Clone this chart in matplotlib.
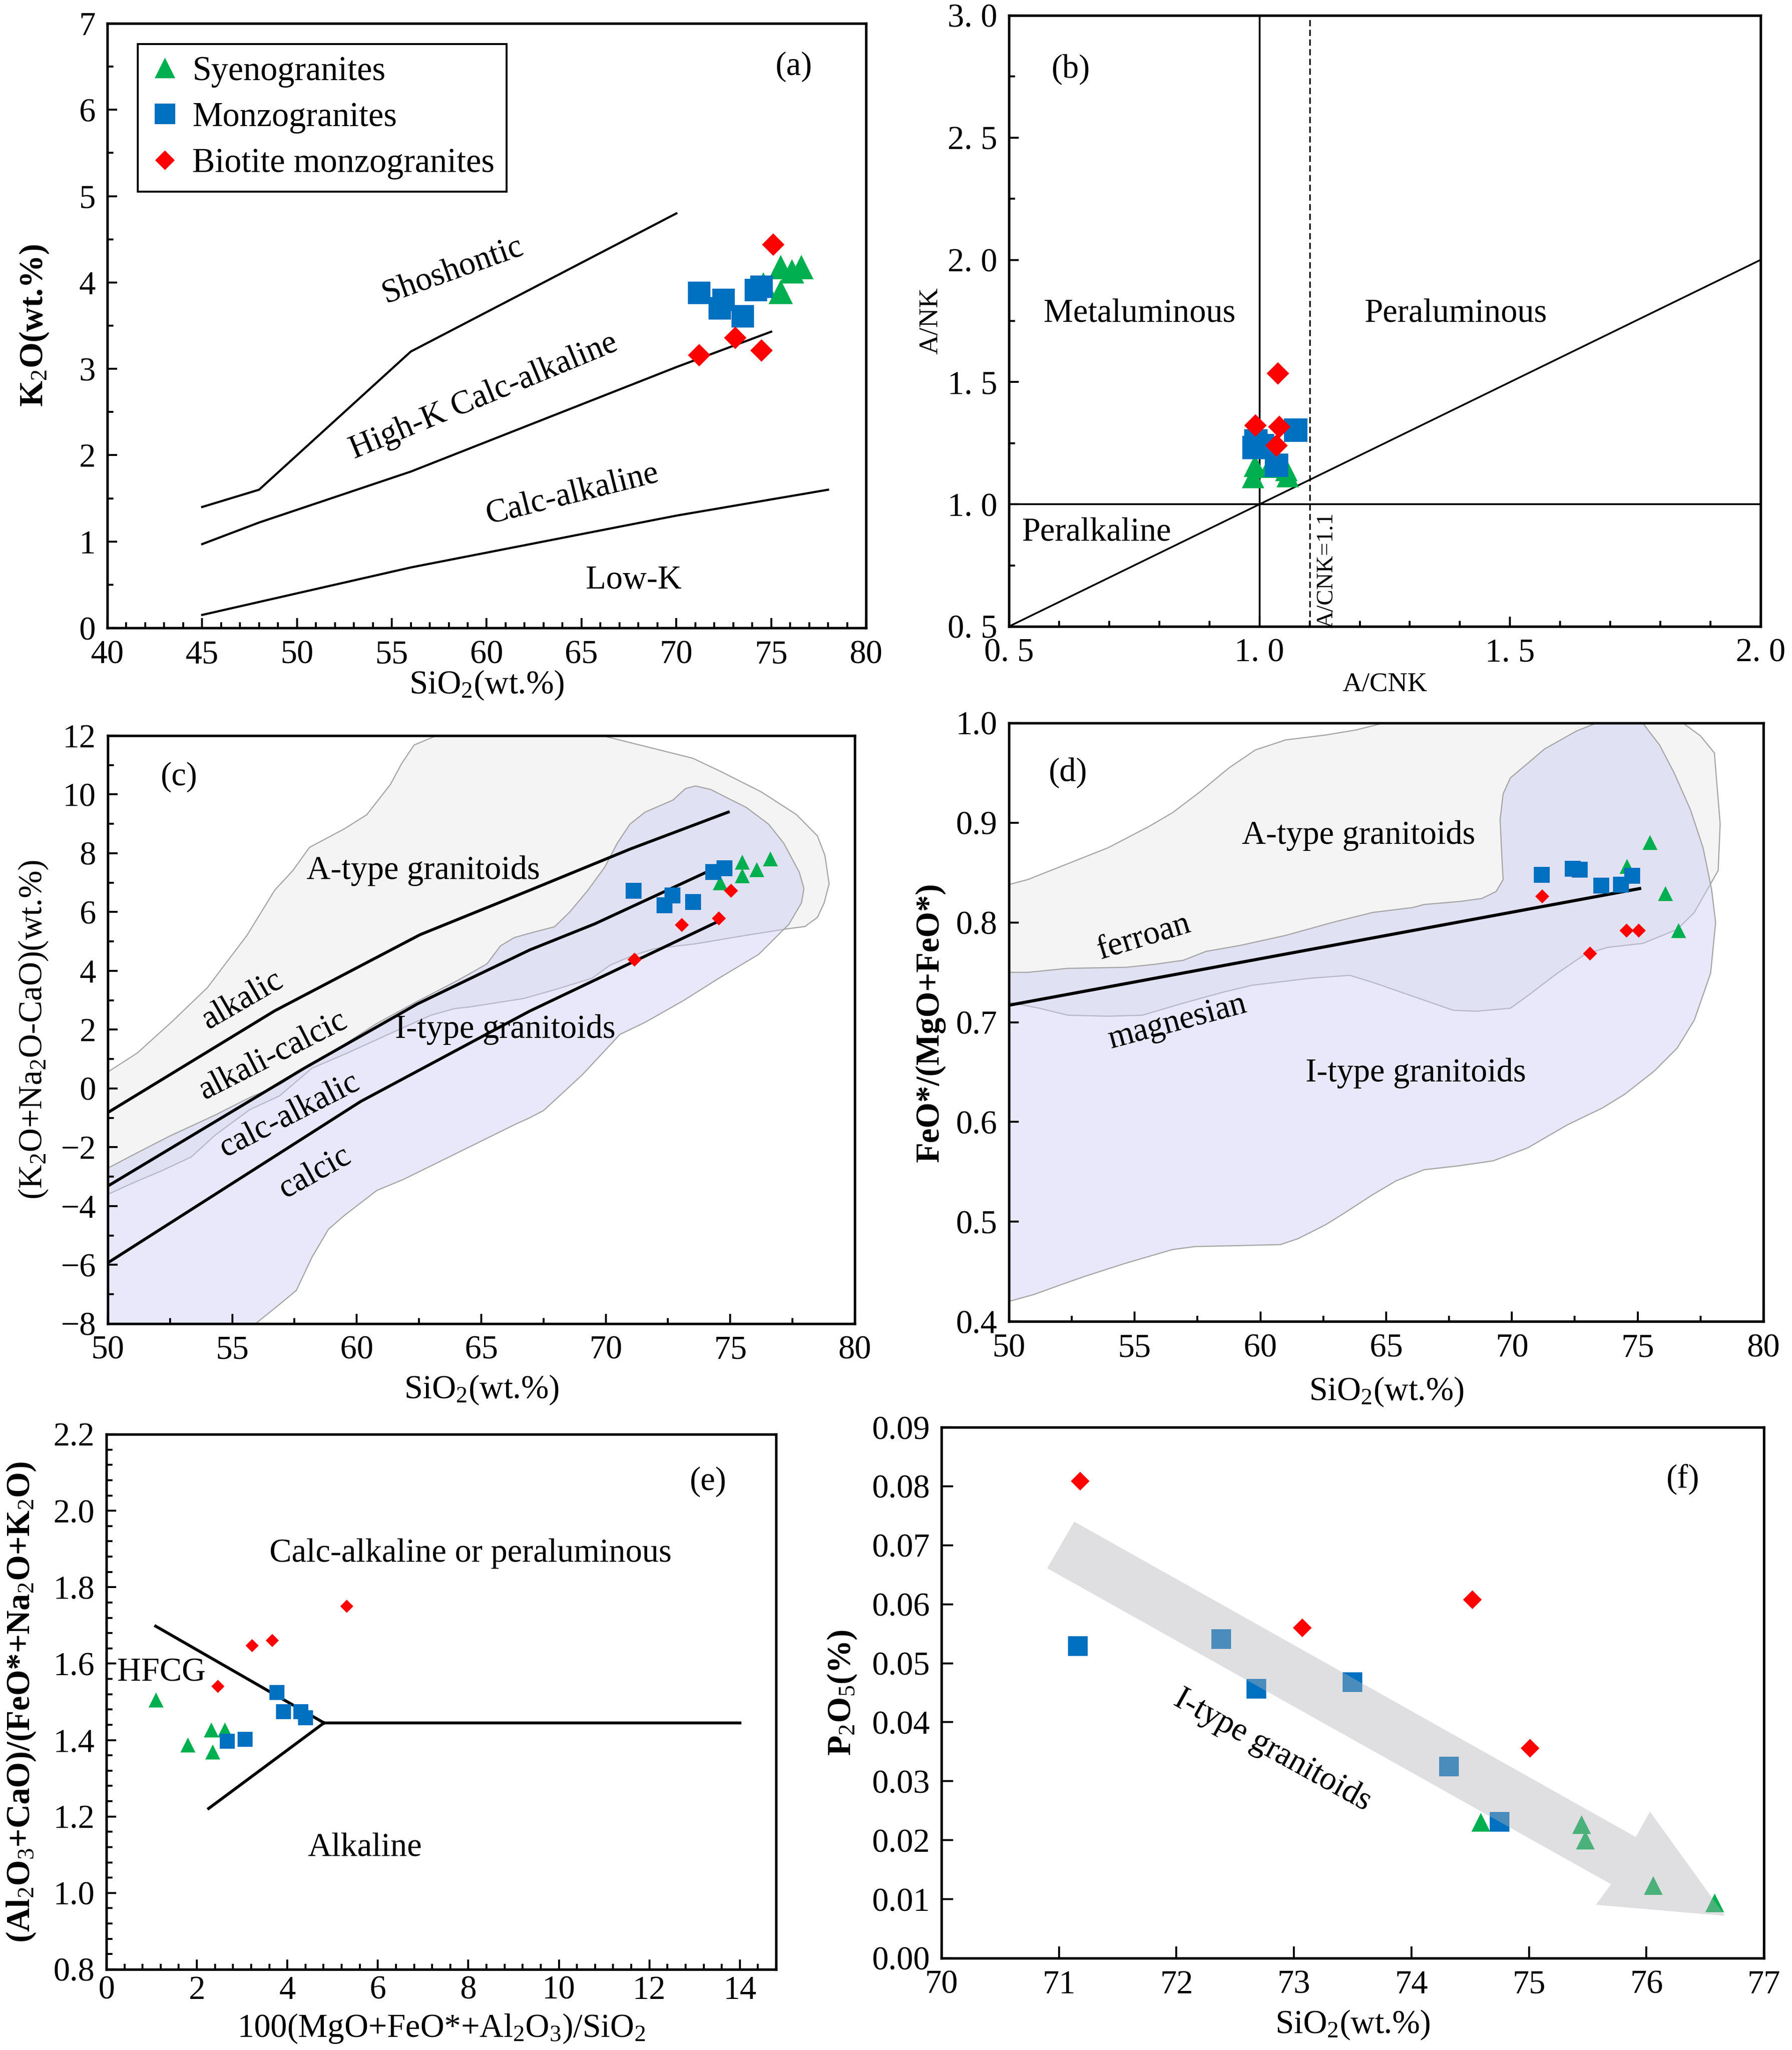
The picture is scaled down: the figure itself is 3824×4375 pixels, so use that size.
#!/usr/bin/env python3
# Granite classification diagrams (a)-(f), six panels in one figure.

import matplotlib
matplotlib.use("Agg")
import matplotlib.pyplot as plt
from matplotlib.patches import Polygon
from matplotlib.lines import Line2D
from matplotlib.ticker import MultipleLocator, FuncFormatter

plt.rcParams["font.family"] = ["Liberation Serif", "DejaVu Serif"]
plt.rcParams["mathtext.fontset"] = "custom"
plt.rcParams["mathtext.rm"] = "Liberation Serif"
plt.rcParams["mathtext.it"] = "Liberation Serif:italic"
plt.rcParams["mathtext.bf"] = "Liberation Serif:bold"
plt.rcParams["font.size"] = 16

GREEN = "#00B050"
BLUE = "#0070C0"
RED = "#FF0000"

# ---------------- (a) SiO2 vs K2O ----------------
a_sye_x = [74.6, 75.5, 75.5, 76.1, 76.6]
a_sye_y = [3.98, 4.18, 3.89, 4.13, 4.18]
a_mon_x = [71.2, 72.5, 72.3, 73.5, 74.2, 74.5]
a_mon_y = [3.88, 3.80, 3.70, 3.61, 3.91, 3.95]
a_bio_x = [75.1, 71.2, 73.1, 74.5]
a_bio_y = [4.44, 3.16, 3.36, 3.21]
a_sho_x = [45, 48, 56, 70]
a_sho_y = [1.4, 1.6, 3.2, 4.8]
a_hk_x = [45, 48, 56, 70, 75]
a_hk_y = [0.97, 1.22, 1.81, 3.02, 3.43]
a_lk_x = [45, 48, 52, 56, 63, 70, 78]
a_lk_y = [0.15, 0.30, 0.50, 0.70, 1.00, 1.30, 1.60]

# ---------------- (b) A/CNK vs A/NK ----------------
b_sye_x = [0.991, 0.987, 1.020, 1.054, 1.056]
b_sye_y = [1.157, 1.112, 1.153, 1.141, 1.115]
b_mon_x = [1.072, 0.993, 1.006, 0.989, 1.034]
b_mon_y = [1.304, 1.259, 1.240, 1.233, 1.160]
b_bio_x = [1.037, 0.992, 1.040, 1.034]
b_bio_y = [1.535, 1.323, 1.316, 1.240]

# ---------------- (c) SiO2 vs MALI ----------------
c_sye_x = [75.48, 75.48, 76.07, 76.62, 74.59]
c_sye_y = [7.69, 7.24, 7.45, 7.81, 7.00]
c_mon_x = [71.12, 72.67, 72.35, 73.50, 74.32, 74.77]
c_mon_y = [6.72, 6.57, 6.23, 6.35, 7.37, 7.49]
c_bio_x = [75.04, 74.54, 73.05, 71.15]
c_bio_y = [6.73, 5.78, 5.56, 4.38]
c_alk_x = [50, 56.7, 62.54, 66.94, 71.0, 74.92]
c_alk_y = [-0.82, 2.64, 5.23, 6.74, 8.15, 9.40]
c_ac_x = [50, 57.89, 62.42, 66.94, 69.56, 74.1]
c_ac_y = [-3.32, 0.69, 2.87, 4.71, 5.60, 7.38]
c_cc_x = [50, 60.16, 66.94, 74.41]
c_cc_y = [-5.93, -0.44, 2.63, 5.64]
c_A_x = [49, 50, 51.19, 52.6, 54.0, 55.6, 56.7, 57.43, 58.1, 59.5, 60.4, 61.35,
         61.8, 62.3, 63.2, 69.86, 73.5, 74.62, 76.24, 77.65, 78.5, 78.8, 78.97,
         78.77, 78.5, 78.0, 77.2, 75.64, 73.6, 71.98, 71.08, 70.16, 69.45, 68.03,
         66.7, 64.5, 63.94, 62.97, 61.24, 59.5, 58.2, 56.9, 55.7, 54.32, 53.35,
         52.16, 51.07, 50, 49]
c_A_y = [0.56, 0.56, 1.21, 2.29, 3.43, 5.22, 6.74, 7.41, 8.2, 8.83, 9.31, 10.34,
         11.05, 11.68, 12.0, 12.0, 11.23, 10.78, 10.09, 9.32, 8.59, 7.93, 6.96,
         6.31, 5.82, 5.51, 5.42, 5.21, 4.92, 4.76, 4.52, 4.19, 3.75, 3.38,
         3.06, 2.77, 2.72, 2.49, 1.83, 1.16, 0.69, -0.25, -0.72, -1.58, -2.33,
         -2.80, -3.19, -3.60, -3.60]
c_I_x = [49, 50, 51.08, 52.48, 54.32, 55.72, 56.9, 58.2, 59.5, 60.8, 62.42, 64.04,
         65.23, 65.77, 66.32, 66.94, 67.94, 68.54, 69.26, 69.96, 70.46, 70.97,
         71.58, 72.7, 73.2, 73.6, 74.21, 75.64, 76.54, 77.15, 77.77, 77.96, 77.86,
         77.35, 76.14, 74.62, 73.1, 71.58, 70.57, 69.05, 67.5, 66.94, 66.41,
         64.04, 61.88, 60.8, 59.5, 58.86, 58.2, 57.57, 56.9, 55.83, 55.5, 49]
c_I_y = [-2.71, -2.71, -2.23, -1.62, -0.90, -0.30, 0.13, 0.83, 1.50, 2.21, 2.96,
         3.67, 4.24, 4.85, 5.13, 5.28, 5.50, 5.99, 6.72, 7.53, 8.34, 8.99, 9.40,
         9.81, 10.20, 10.29, 10.17, 9.56, 8.99, 8.34, 7.36, 6.80, 6.31, 5.58,
         4.56, 3.79, 2.98, 2.25, 1.84, 0.46, -0.75, -1.00, -1.20, -2.19, -3.09,
         -3.47, -4.32, -4.79, -5.74, -6.87, -7.34, -8.07, -9.0, -9.0]

# ---------------- (d) SiO2 vs Fe-number ----------------
d_sye_x = [74.58, 75.50, 76.11, 76.62]
d_sye_y = [0.856, 0.880, 0.829, 0.792]
d_mon_x = [71.18, 72.41, 72.69, 73.55, 74.33, 74.79]
d_mon_y = [0.848, 0.854, 0.853, 0.837, 0.838, 0.847]
d_bio_x = [71.20, 73.10, 74.56, 75.04]
d_bio_y = [0.826, 0.769, 0.792, 0.792]
d_line_x = [50, 75.08]
d_line_y = [0.717, 0.834]
d_A_x = [49, 50, 50.75, 52.35, 53.95, 55.55, 56.5, 57.6, 58.75, 59.8, 61.0, 62.6,
         63.8, 64.9, 76.8, 77.5, 78.05, 78.28, 78.2, 77.25, 76.57, 75.2, 73.8,
         72.9, 71.8, 70.6, 69.94, 68.57, 67.66, 66.06, 64.46, 63.55, 61.95, 59.66,
         58.5, 56.92, 55.3, 53.95, 52.35, 51.2, 50, 49]
d_A_y = [0.838, 0.838, 0.843, 0.859, 0.875, 0.896, 0.910, 0.931, 0.955, 0.973,
         0.983, 0.988, 0.993, 1.0, 1.0, 0.987, 0.970, 0.899, 0.852, 0.810, 0.793,
         0.779, 0.775, 0.768, 0.749, 0.726, 0.714, 0.711, 0.712, 0.726, 0.740,
         0.747, 0.744, 0.737, 0.730, 0.719, 0.707, 0.706, 0.707, 0.714, 0.720, 0.720]
d_I_x = [49, 50, 50.75, 52.35, 54.64, 55.78, 56.92, 57.84, 59.2, 61.0, 62.86, 64.46,
         66.06, 66.5, 67.9, 68.8, 69.37, 69.65, 69.6, 69.53, 69.65, 69.94, 70.6,
         71.3, 72.57, 73.37, 75.2, 75.87, 76.45, 77.1, 77.6, 77.94, 78.1, 77.9,
         77.25, 76.57, 75.66, 74.5, 73.6, 72.2, 70.63, 69.26, 67.9, 66.5, 65.4,
         64.46, 63.3, 62.6, 61.5, 60.8, 59.2, 57.4, 56.5, 55.55, 54.6, 53.0, 52.1,
         51.0, 50, 49]
d_I_y = [0.750, 0.750, 0.750, 0.754, 0.755, 0.758, 0.762, 0.771, 0.777, 0.787,
         0.800, 0.810, 0.815, 0.818, 0.821, 0.824, 0.831, 0.843, 0.866, 0.903,
         0.929, 0.945, 0.959, 0.974, 0.992, 1.0, 1.0, 0.978, 0.950, 0.913, 0.875,
         0.833, 0.800, 0.749, 0.702, 0.674, 0.651, 0.628, 0.614, 0.597, 0.574,
         0.561, 0.556, 0.552, 0.541, 0.527, 0.508, 0.497, 0.483, 0.477, 0.476,
         0.475, 0.472, 0.465, 0.458, 0.445, 0.437, 0.427, 0.420, 0.418]

# ---------------- (e) HFCG diagram ----------------
e_sye_x = [1.10, 1.80, 2.32, 2.62, 2.35]
e_sye_y = [1.505, 1.387, 1.426, 1.427, 1.369]
e_mon_x = [3.77, 3.92, 4.30, 4.40, 2.67, 3.07]
e_mon_y = [1.525, 1.474, 1.474, 1.458, 1.397, 1.402]
e_bio_x = [5.31, 3.67, 3.22, 2.46]
e_bio_y = [1.750, 1.661, 1.647, 1.541]
e_up_x = [1.09, 4.81]
e_up_y = [1.698, 1.445]
e_lo_x = [2.26, 4.81]
e_lo_y = [1.221, 1.445]
e_hz_x = [4.81, 14.0]
e_hz_y = [1.445, 1.445]

# ---------------- (f) SiO2 vs P2O5 ----------------
f_sye_x = [74.59, 75.45, 75.48, 76.06, 76.58]
f_sye_y = [0.0230, 0.0226, 0.0200, 0.0123, 0.0094]
f_mon_x = [71.16, 72.38, 72.68, 73.50, 74.32, 74.75]
f_mon_y = [0.0529, 0.0541, 0.0457, 0.0468, 0.0325, 0.0231]
f_bio_x = [71.18, 73.07, 74.52, 75.01]
f_bio_y = [0.0809, 0.0560, 0.0608, 0.0356]
f_arrow_x = [71.13, 75.91, 76.03, 76.67, 75.57, 75.70, 70.90]
f_arrow_y = [0.0740, 0.02053, 0.02485, 0.00717, 0.00905, 0.01253, 0.0661]


def style(ax, xlim, ylim, xmaj, ymaj, xmin=None, ymin=None):
    ax.set_xlim(*xlim)
    ax.set_ylim(*ylim)
    ax.xaxis.set_major_locator(MultipleLocator(xmaj))
    ax.yaxis.set_major_locator(MultipleLocator(ymaj))
    if xmin:
        ax.xaxis.set_minor_locator(MultipleLocator(xmin))
    if ymin:
        ax.yaxis.set_minor_locator(MultipleLocator(ymin))
    ax.tick_params(which="both", direction="in", top=False, right=False,
                   width=1.0, labelsize=17, pad=6)
    ax.tick_params(which="major", length=5)
    ax.tick_params(which="minor", length=3)
    for s in ax.spines.values():
        s.set_linewidth(1.3)


def scatter3(ax, sye, mon, bio, ms_t, ms_s, ms_d, z=3):
    ax.plot(*sye, ls="none", marker="^", ms=ms_t, color=GREEN, mec="none", zorder=z)
    ax.plot(*mon, ls="none", marker="s", ms=ms_s, color=BLUE, mec="none", zorder=z)
    ax.plot(*bio, ls="none", marker="D", ms=ms_d, color=RED, mec="none", zorder=z)


W, H = 3824, 4375
fig = plt.figure(figsize=(W / 300, H / 300), dpi=300)


def box(l, t, r, b):
    return [l / W, 1 - b / H, (r - l) / W, (b - t) / H]


# ---- (a)
ax = fig.add_axes(box(229, 50, 1848, 1340))
style(ax, (40, 80), (0, 7), 5, 1, 1, 0.5)
for xs, ys in [(a_sho_x, a_sho_y), (a_hk_x, a_hk_y), (a_lk_x, a_lk_y)]:
    ax.plot(xs, ys, color="black", lw=1.1, zorder=2)
scatter3(ax, (a_sye_x, a_sye_y), (a_mon_x, a_mon_y), (a_bio_x, a_bio_y), 12.5, 11.5, 8.3)
# legend uses the same marker kinds as the points, a bit smaller
handles = [
    Line2D([], [], ls="none", marker="^", ms=10.5, color=GREEN, mec="none", label="Syenogranites"),
    Line2D([], [], ls="none", marker="s", ms=10.5, color=BLUE, mec="none", label="Monzogranites"),
    Line2D([], [], ls="none", marker="D", ms=7, color=RED, mec="none", label="Biotite monzogranites"),
]
leg = ax.legend(handles=handles, loc="upper left", bbox_to_anchor=(0.040, 0.966),
                borderaxespad=0, fancybox=False, edgecolor="black", framealpha=1,
                fontsize=17.5, handlelength=0.9, handletextpad=0.35, labelspacing=0.42,
                borderpad=0.35)
leg.get_frame().set_linewidth(1.0)
ax.text(58.2, 4.14, "Shoshontic", rotation=19.6, ha="center", va="center", fontsize=17)
ax.text(59.85, 2.68, "High-K Calc-alkaline", rotation=22.4, ha="center", va="center", fontsize=17)
ax.text(64.5, 1.55, "Calc-alkaline", rotation=14, ha="center", va="center", fontsize=17)
ax.text(67.76, 0.55, "Low-K", ha="center", va="center", fontsize=17)
ax.text(76.2, 6.5, "(a)", ha="center", va="center", fontsize=17)
ax.set_ylabel("K$_2$O(wt.%)", fontweight="bold", fontsize=17)
ax.set_xlabel("SiO$_2$(wt.%)", fontsize=17)
ax.yaxis.set_label_coords(-0.075, 0.5)
ax.xaxis.set_label_coords(0.5, -0.068)

# ---- (b)
ax = fig.add_axes(box(2153, 33, 3757, 1337))
style(ax, (0.5, 2.0), (0.5, 3.0), 0.5, 0.5, 0.1, 0.25)
spaced = FuncFormatter(lambda v, p: f"{v:.1f}".replace(".", ". "))
ax.xaxis.set_major_formatter(spaced)
ax.yaxis.set_major_formatter(spaced)
ax.axvline(1.0, color="black", lw=0.9, zorder=2)
ax.axhline(1.0, color="black", lw=0.9, zorder=2)
ax.plot([0.5, 2.0], [0.5, 2.0], color="black", lw=0.9, zorder=2)
ax.axvline(1.1, color="black", lw=0.8, ls=(0, (4, 2.2)), zorder=2)
scatter3(ax, (b_sye_x, b_sye_y), (b_mon_x, b_mon_y), (b_bio_x, b_bio_y), 11.5, 12, 8.1)
ax.text(0.624, 2.78, "(b)", ha="center", va="center", fontsize=17)
ax.text(0.761, 1.78, "Metaluminous", ha="center", va="center", fontsize=17)
ax.text(1.392, 1.78, "Peraluminous", ha="center", va="center", fontsize=17)
ax.text(0.675, 0.885, "Peralkaline", ha="center", va="center", fontsize=17)
ax.text(1.134, 0.73, "A/CNK=1.1", rotation=90, ha="center", va="center", fontsize=12)
ax.set_ylabel("A/NK", fontsize=14)
ax.set_xlabel("A/CNK", fontsize=14)
ax.yaxis.set_label_coords(-0.088, 0.5)
ax.xaxis.set_label_coords(0.5, -0.075)

# ---- (c)
ax = fig.add_axes(box(230, 1570, 1824, 2825))
style(ax, (50, 80), (-8, 12), 5, 2, 2.5, 1)
ax.add_patch(Polygon(list(zip(c_A_x, c_A_y)), closed=True, facecolor="#F4F4F4",
                     edgecolor="#A6A6A6", lw=0.6, zorder=1))
ax.add_patch(Polygon(list(zip(c_I_x, c_I_y)), closed=True,
                     facecolor=(0.80, 0.80, 0.957, 0.45), edgecolor="#A6A6A6",
                     lw=0.6, zorder=1.1))
for xs, ys in [(c_alk_x, c_alk_y), (c_ac_x, c_ac_y), (c_cc_x, c_cc_y)]:
    ax.plot(xs, ys, color="black", lw=1.5, zorder=2)
scatter3(ax, (c_sye_x, c_sye_y), (c_mon_x, c_mon_y), (c_bio_x, c_bio_y), 7.8, 8, 5.0)
ax.text(52.86, 10.6, "(c)", ha="center", va="center", fontsize=17)
ax.text(62.67, 7.4, "A-type granitoids", ha="center", va="center", fontsize=17)
ax.text(65.97, 2.0, "I-type granitoids", ha="center", va="center", fontsize=17)
ax.text(55.4, 3.01, "alkalic", rotation=30, ha="center", va="center", fontsize=17)
ax.text(56.64, 1.12, "alkali-calcic", rotation=27, ha="center", va="center", fontsize=17)
ax.text(57.29, -0.9, "calc-alkalic", rotation=27, ha="center", va="center", fontsize=17)
ax.text(58.32, -2.85, "calcic", rotation=29, ha="center", va="center", fontsize=17)
ax.set_ylabel("(K$_2$O+Na$_2$O-CaO)(wt.%)", fontsize=17)
ax.set_xlabel("SiO$_2$(wt.%)", fontsize=17)
ax.yaxis.set_label_coords(-0.078, 0.5)
ax.xaxis.set_label_coords(0.5, -0.085)

# ---- (d)
ax = fig.add_axes(box(2153, 1543, 3763, 2820))
style(ax, (50, 80), (0.4, 1.0), 5, 0.1, 2.5, None)
ax.yaxis.set_major_formatter(FuncFormatter(lambda v, p: f"{v:.1f}"))
ax.add_patch(Polygon(list(zip(d_A_x, d_A_y)), closed=True, facecolor="#F4F4F4",
                     edgecolor="#A6A6A6", lw=0.6, zorder=1))
ax.add_patch(Polygon(list(zip(d_I_x, d_I_y)), closed=True,
                     facecolor=(0.80, 0.80, 0.957, 0.45), edgecolor="#A6A6A6",
                     lw=0.6, zorder=1.1))
ax.plot(d_line_x, d_line_y, color="black", lw=1.6, zorder=2)
scatter3(ax, (d_sye_x, d_sye_y), (d_mon_x, d_mon_y), (d_bio_x, d_bio_y), 7.8, 8, 5.0)
ax.text(52.35, 0.95, "(d)", ha="center", va="center", fontsize=17)
ax.text(63.9, 0.887, "A-type granitoids", ha="center", va="center", fontsize=17)
ax.text(55.37, 0.785, "ferroan", rotation=17, ha="center", va="center", fontsize=17)
ax.text(56.7, 0.70, "magnesian", rotation=15, ha="center", va="center", fontsize=17)
ax.text(66.18, 0.649, "I-type granitoids", ha="center", va="center", fontsize=17)
ax.set_ylabel("FeO*/(MgO+FeO*)", fontweight="bold", fontsize=17)
ax.set_xlabel("SiO$_2$(wt.%)", fontsize=17)
ax.yaxis.set_label_coords(-0.084, 0.5)
ax.xaxis.set_label_coords(0.5, -0.09)

# ---- (e)
ax = fig.add_axes(box(227, 3061, 1656, 4203))
style(ax, (0, 14.8), (0.8, 2.2), 2, 0.2, 0.4, 0.04)
ax.tick_params(axis="x", which="both", pad=3)
ax.yaxis.set_major_formatter(FuncFormatter(lambda v, p: f"{v:.1f}"))
for xs, ys in [(e_up_x, e_up_y), (e_lo_x, e_lo_y), (e_hz_x, e_hz_y)]:
    ax.plot(xs, ys, color="black", lw=1.5, zorder=2)
scatter3(ax, (e_sye_x, e_sye_y), (e_mon_x, e_mon_y), (e_bio_x, e_bio_y), 7.5, 7.8, 4.6)
ax.text(13.3, 2.076, "(e)", ha="center", va="center", fontsize=17)
ax.text(8.05, 1.888, "Calc-alkaline or peraluminous", ha="center", va="center", fontsize=17)
ax.text(1.22, 1.576, "HFCG", ha="center", va="center", fontsize=17)
ax.text(5.71, 1.119, "Alkaline", ha="center", va="center", fontsize=17)
ax.set_ylabel("(Al$_2$O$_3$+CaO)/(FeO*+Na$_2$O+K$_2$O)", fontweight="bold", fontsize=17)
ax.set_xlabel("100(MgO+FeO*+Al$_2$O$_3$)/SiO$_2$", fontsize=17)
ax.yaxis.set_label_coords(-0.103, 0.5)
ax.xaxis.set_label_coords(0.5, -0.08)

# ---- (f)
ax = fig.add_axes(box(2009, 3046, 3764, 4179))
style(ax, (70, 77), (0, 0.09), 1, 0.01)
ax.tick_params(which="major", length=6)
ax.yaxis.set_major_formatter(FuncFormatter(lambda v, p: f"{v:.2f}"))
scatter3(ax, (f_sye_x, f_sye_y), (f_mon_x, f_mon_y), (f_bio_x, f_bio_y), 9.6, 10, 6.8)
# arrow sits on top of the points, translucent
ax.add_patch(Polygon(list(zip(f_arrow_x, f_arrow_y)), closed=True,
                     facecolor=(0.70, 0.70, 0.72, 0.42), edgecolor="none", zorder=4))
ax.text(76.31, 0.0811, "(f)", ha="center", va="center", fontsize=17)
ax.text(72.82, 0.0352, "I-type granitoids", rotation=-29, ha="center", va="center",
        fontsize=17, zorder=5)
ax.set_ylabel("P$_2$O$_5$(%)", fontweight="bold", fontsize=17)
ax.set_xlabel("SiO$_2$(wt.%)", fontsize=17)
ax.yaxis.set_label_coords(-0.101, 0.5)
ax.xaxis.set_label_coords(0.5, -0.095)

fig.savefig("out.png", dpi=300)
